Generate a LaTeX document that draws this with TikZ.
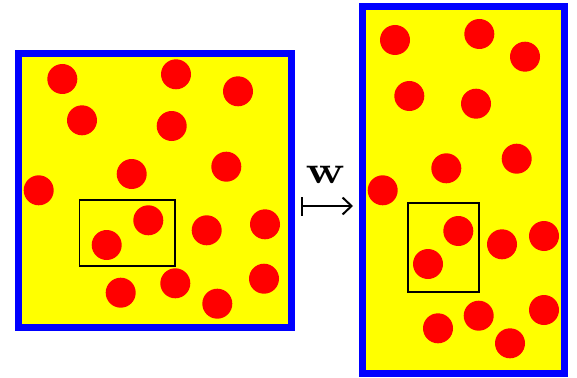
\documentclass[tikz,border=0pt]{standalone}
\usetikzlibrary{arrows.meta}
\definecolor{ylw}{RGB}{255,255,0}
\definecolor{blu}{RGB}{0,0,255}
\definecolor{rd}{RGB}{255,0,0}
\begin{document}
\begin{tikzpicture}[x=1pt,y=-1pt,
  box/.style={draw=blu,fill=ylw,line width=7pt},
  dot/.style={fill=rd},
  win/.style={draw=black,line width=1.8pt},
  mapar/.style={line width=2pt,{Bar[width=19pt,line width=2pt]}-{Straight Barb[length=9pt,width=17pt,line width=2pt]}}]
\useasboundingbox (0,0) rectangle (577,377);
% left panel
\draw[box] (18,54) rectangle (291,327);
\foreach \x/\y in {62.3/79,176/74.3,238/91.3,82/120.3,171.7/126,226.3/166.7,131.7/174,38.7/190.3,148.3/220.3,106.7/245,206.7/230.3,265/224.3,120.7/292.7,175.3/283.3,217.3/303.7,264/278.7}
  \fill[dot] (\x,\y) circle (15);
\draw[win] (79.5,200) rectangle (175,266);
% right panel
\draw[box] (362.3,6.3) rectangle (564.7,373.7);
\foreach \x/\y in {395/40,479.3/34,525/56.7,409.3/96,476/103.7,516.7/158.7,446.3/168.3,382.7/190.3,458.3/231,428/264,502/244.3,544/236,438/328.3,478.7/315.7,510/343.3,544/310}
  \fill[dot] (\x,\y) circle (15);
\draw[win] (408,203) rectangle (479,292);
% map arrow
\coordinate (a0) at (300.5,206);
\coordinate (a1) at (353,206);
\draw[mapar] (a0) -- (a1);
\node[inner sep=0pt] (w) at (325.5,174.5) {\scalebox{4.7}[3.9]{$\mathbf{w}$}};
\end{tikzpicture}
\end{document}
